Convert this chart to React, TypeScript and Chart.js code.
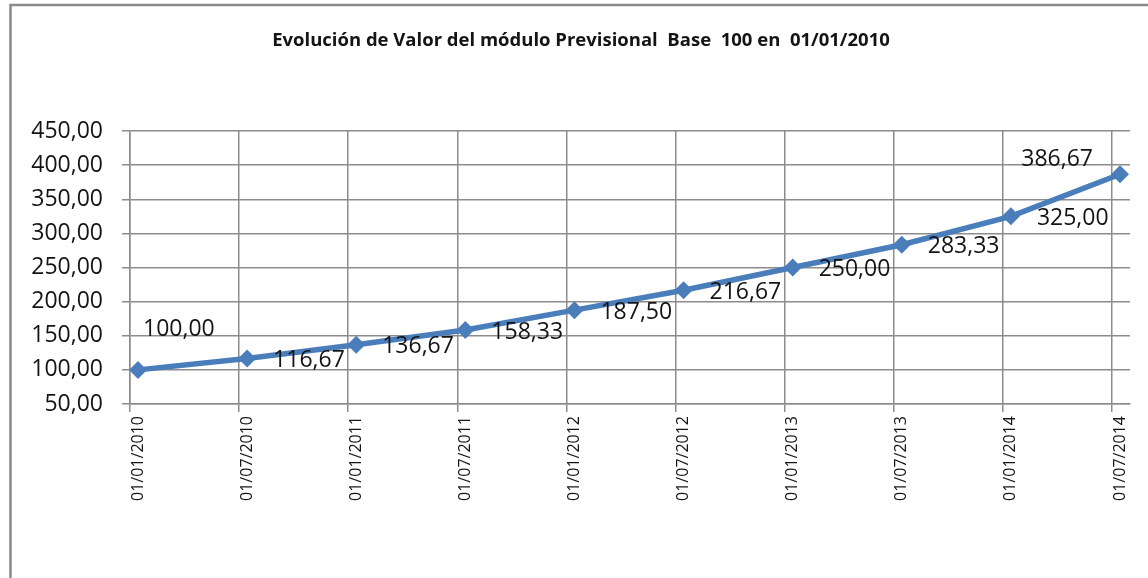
import React, { useEffect, useRef } from "react";
import { Chart, registerables } from "chart.js";

Chart.register(...registerables);

const TITLE = "Evolución de Valor del módulo Previsional  Base  100 en  01/01/2010";
const categories = [
  "01/01/2010",
  "01/07/2010",
  "01/01/2011",
  "01/07/2011",
  "01/01/2012",
  "01/07/2012",
  "01/01/2013",
  "01/07/2013",
  "01/01/2014",
  "01/07/2014",
];
const values = [100, 116.67, 136.67, 158.33, 187.5, 216.67, 250, 283.33, 325, 386.67];
const yTicks = [50, 100, 150, 200, 250, 300, 350, 400, 450];
// label placement per point (style only)
const labelPlacement = ["topright", "right", "right", "right", "right", "right", "right", "right", "right", "topleft"];

const FONT = "'Open Sans', 'Noto Sans', sans-serif";
const GRID_OFF = 0.0733; // gridlines sit slightly left of the points
const fmt = (v: number) => v.toFixed(2).replace(".", ",");

export default function App() {
  const ref = useRef<HTMLCanvasElement | null>(null);
  useEffect(() => {
    if (!ref.current) return;
    const frame = {
      id: "frame",
      beforeDraw(chart: any) {
        const ctx = chart.ctx;
        ctx.save();
        ctx.fillStyle = "#ffffff";
        ctx.fillRect(0, 0, chart.width, chart.height);
        ctx.strokeStyle = "#8a8a8a";
        ctx.lineWidth = 2.5;
        ctx.strokeRect(10.5, 5, chart.width + 20, chart.height + 20);
        ctx.fillStyle = "#141414";
        ctx.font = `bold 18.5px ${FONT}`;
        ctx.textAlign = "center";
        ctx.textBaseline = "middle";
        ctx.fillText(TITLE, 581, 41);
        ctx.restore();
      },
    };
    const labels = {
      id: "valueLabels",
      afterDatasetsDraw(chart: any) {
        const ctx = chart.ctx;
        const meta = chart.getDatasetMeta(0);
        ctx.save();
        ctx.font = `23px ${FONT}`;
        ctx.fillStyle = "#141414";
        ctx.textBaseline = "middle";
        meta.data.forEach((pt: any, i: number) => {
          const p = labelPlacement[i];
          const t = fmt(values[i]);
          if (p === "topright") {
            ctx.textAlign = "left";
            ctx.fillText(t, pt.x + 5, pt.y - 40);
          } else if (p === "topleft") {
            ctx.textAlign = "right";
            ctx.fillText(t, pt.x - 27, pt.y - 15);
          } else {
            ctx.textAlign = "left";
            ctx.fillText(t, pt.x + 26, pt.y + 2);
          }
        });
        ctx.restore();
      },
    };
    const chart = new Chart(ref.current, {
      type: "line",
      data: {
        datasets: [
          {
            data: values.map((v, i) => ({ x: i, y: v })),
            borderColor: "#4a7ebb",
            backgroundColor: "#4a7ebb",
            borderWidth: 5.5,
            pointStyle: "rectRot",
            pointRadius: 9,
            pointBorderWidth: 0,
            pointBackgroundColor: "#4a7ebb",
            tension: 0,
            clip: false,
          } as any,
        ],
      },
      options: {
        animation: false,
        responsive: false,
        layout: { padding: { left: 0, right: 18, top: 131, bottom: 0 } },
        plugins: { legend: { display: false }, tooltip: { enabled: false }, title: { display: false } },
        scales: {
          x: {
            type: "linear",
            min: -GRID_OFF,
            max: categories.length - 1 + 0.0917,
            afterBuildTicks: (scale: any) => {
              scale.ticks = categories.map((_, i) => ({ value: i - GRID_OFF }));
            },
            afterFit: (scale: any) => {
              scale.height = 174;
            },
            grid: { color: "#8c8c8c", lineWidth: 1.5, tickLength: 8, drawTicks: true },
            border: { color: "#8c8c8c", width: 1.5 },
            ticks: {
              autoSkip: false,
              minRotation: 90,
              maxRotation: 90,
              labelOffset: 8,
              padding: 4,
              color: "#141414",
              font: { family: FONT, size: 16 },
              callback: (_v: any, index: number) => categories[index],
            },
          },
          y: {
            min: 50,
            max: 450,
            afterBuildTicks: (scale: any) => {
              scale.ticks = yTicks.map((v) => ({ value: v }));
            },
            afterFit: (scale: any) => {
              scale.width = 130;
            },
            grid: { color: "#8c8c8c", lineWidth: 1.5, tickLength: 8 },
            border: { color: "#8c8c8c", width: 1.5 },
            ticks: {
              padding: 19,
              color: "#141414",
              font: { family: FONT, size: 23 },
              callback: (v: any) => fmt(Number(v)),
            },
          },
        },
      },
      plugins: [frame, labels],
    });
    return () => chart.destroy();
  }, []);
  return (
    <div style={{ position: "fixed", left: 0, top: 0, width: 1148, height: 578, background: "#fff" }}>
      <canvas ref={ref} width={1148} height={578} style={{ display: "block" }} />
    </div>
  );
}
